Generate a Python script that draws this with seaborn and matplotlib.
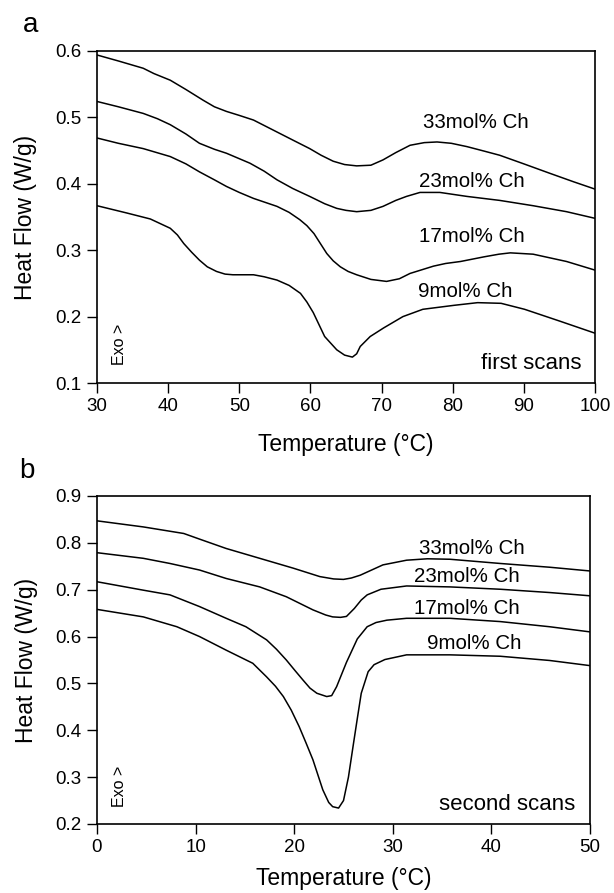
import matplotlib
matplotlib.use("Agg")
import matplotlib.pyplot as plt
import seaborn as sns
import pandas as pd

# panel a: first scans, 30-100 C
a_t33 = [30, 33, 36.5, 38, 40.3, 42.5, 44.9, 46.5, 48.2, 50, 52, 55.3, 57.5, 59.9, 61.5, 63.2, 64.8, 66.5, 68.5, 70.2, 72, 74, 76, 77.8, 79.8, 82, 84.5, 86.6, 90, 93.6, 97, 100]
a_v33 = [0.594, 0.585, 0.574, 0.566, 0.556, 0.542, 0.526, 0.516, 0.509, 0.503, 0.496, 0.478, 0.466, 0.453, 0.443, 0.434, 0.429, 0.427, 0.428, 0.436, 0.447, 0.458, 0.462, 0.463, 0.461, 0.456, 0.449, 0.443, 0.430, 0.416, 0.403, 0.392]

a_t23 = [30, 33, 36.5, 38.5, 40.3, 42.5, 44.4, 46.5, 48.2, 51.5, 53.5, 55.3, 57.5, 59.9, 62, 63.7, 65, 66.5, 68.5, 70.2, 72, 73.5, 75.4, 78.2, 82, 86.6, 91.3, 96, 100]
a_v23 = [0.524, 0.516, 0.506, 0.498, 0.489, 0.475, 0.461, 0.452, 0.446, 0.431, 0.419, 0.406, 0.393, 0.381, 0.370, 0.363, 0.360, 0.358, 0.360, 0.366, 0.375, 0.381, 0.387, 0.387, 0.381, 0.375, 0.367, 0.358, 0.348]

a_t17 = [30, 33, 36.5, 40.3, 42.5, 44.4, 46.5, 48.2, 50, 52, 55.3, 57, 58.5, 59.5, 60.5, 61.4, 62.3, 63.2, 64.2, 65.3, 66.5, 68.5, 70.7, 72.5, 74, 77.3, 79, 81.1, 84.4, 86.5, 88.1, 91.3, 96, 100]
a_v17 = [0.469, 0.461, 0.453, 0.441, 0.430, 0.418, 0.406, 0.396, 0.387, 0.378, 0.366, 0.357, 0.346, 0.337, 0.325, 0.310, 0.295, 0.284, 0.275, 0.268, 0.263, 0.256, 0.253, 0.257, 0.265, 0.276, 0.280, 0.283, 0.290, 0.294, 0.296, 0.294, 0.283, 0.270]

a_t9 = [30, 34.2, 37.5, 40.3, 41.3, 42.2, 43.3, 44.4, 45.5, 46.8, 48, 49.1, 50.5, 52, 53.5, 55.3, 57, 58.6, 59.5, 60.4, 61.2, 62, 63.7, 64.8, 65.9, 66.5, 67, 68.4, 70.3, 73, 75.8, 80.2, 83.5, 86.8, 90.1, 95.1, 100]
a_v9 = [0.367, 0.356, 0.347, 0.333, 0.323, 0.310, 0.297, 0.285, 0.275, 0.268, 0.264, 0.263, 0.263, 0.263, 0.260, 0.255, 0.247, 0.235, 0.222, 0.206, 0.188, 0.170, 0.150, 0.142, 0.139, 0.144, 0.155, 0.170, 0.183, 0.200, 0.211, 0.217, 0.221, 0.220, 0.211, 0.193, 0.175]

# panel b: second scans, 0-50 C
b_t33 = [0, 4.7, 8.8, 10.4, 13.1, 16.5, 19.9, 22.6, 24, 25, 25.8, 26.7, 29, 31.4, 33.5, 35.8, 40.9, 45.9, 50]
b_v33 = [0.847, 0.834, 0.820, 0.808, 0.788, 0.767, 0.746, 0.728, 0.723, 0.722, 0.725, 0.731, 0.753, 0.763, 0.766, 0.765, 0.756, 0.748, 0.740]

b_t23 = [0, 4.7, 7.4, 10.4, 13.1, 16.5, 19.2, 21.9, 23.2, 23.9, 24.7, 25.3, 26.1, 26.8, 27.4, 28.8, 31.4, 35.8, 40.9, 45.9, 50]
b_v23 = [0.779, 0.767, 0.756, 0.742, 0.724, 0.706, 0.685, 0.657, 0.646, 0.642, 0.641, 0.643, 0.660, 0.678, 0.689, 0.701, 0.708, 0.706, 0.701, 0.694, 0.687]

b_t17 = [0, 4.7, 7.4, 10.4, 13.1, 15.1, 17.2, 18.2, 19.2, 20.1, 20.9, 21.6, 22.3, 23.3, 23.8, 24.3, 25.3, 26.4, 27.4, 28.3, 29.4, 31.4, 35.8, 40.9, 45.9, 50]
b_v17 = [0.717, 0.699, 0.689, 0.664, 0.639, 0.621, 0.593, 0.573, 0.550, 0.527, 0.507, 0.490, 0.479, 0.472, 0.474, 0.493, 0.545, 0.595, 0.621, 0.630, 0.635, 0.639, 0.639, 0.632, 0.621, 0.610]

b_t9 = [0, 4.7, 8.1, 10.4, 13.1, 15.8, 17.2, 18.1, 18.9, 19.7, 20.5, 21.2, 21.9, 22.9, 23.5, 23.9, 24.5, 25, 25.5, 26, 26.4, 26.8, 27.5, 28.1, 29.2, 31.4, 35.8, 40.9, 45.9, 50]
b_v9 = [0.658, 0.642, 0.621, 0.600, 0.571, 0.543, 0.514, 0.494, 0.472, 0.443, 0.408, 0.373, 0.337, 0.273, 0.246, 0.237, 0.234, 0.250, 0.300, 0.370, 0.425, 0.479, 0.525, 0.540, 0.551, 0.561, 0.561, 0.558, 0.549, 0.538]

labels = ["33mol% Ch", "23mol% Ch", "17mol% Ch", "9mol% Ch"]
a_label_pos = [(83.2, 0.492), (82.7, 0.404), (82.7, 0.321), (81.7, 0.238)]
b_label_pos = [(38.0, 0.788), (37.5, 0.729), (37.5, 0.660), (38.3, 0.586)]

sns.set_style("ticks")
plt.rcParams["font.family"] = ["Liberation Sans", "DejaVu Sans"]
plt.rcParams["text.color"] = "black"
plt.rcParams["axes.labelcolor"] = "black"

W, H = 614, 893
fig = plt.figure(figsize=(W / 100, H / 100), dpi=100)


def make_axes(left, top, right, bottom):
    return fig.add_axes([left / W, 1 - bottom / H, (right - left) / W, (bottom - top) / H])


def draw_panel(ax, curves, label_pos, xlim, ylim, xticks, yticks, scan_text, scan_pos, exo_pos, xlab_off):
    for (t, v), lab, (lx, ly) in zip(curves, labels, label_pos):
        df = pd.DataFrame({"T": t, "HF": v})
        sns.lineplot(data=df, x="T", y="HF", ax=ax, color="black", linewidth=1.1, sort=False)
        ax.text(lx, ly, lab, fontsize=14.8, ha="center", va="center", color="black")
    ax.set_xlim(*xlim)
    ax.set_ylim(*ylim)
    ax.set_xticks(xticks)
    ax.set_yticks(yticks)
    ax.set_yticklabels([f"{y:.1f}" for y in yticks])
    ax.tick_params(direction="out", length=7, width=1, labelsize=13.5, pad=4, colors="black")
    for s in ax.spines.values():
        s.set_linewidth(1.2)
        s.set_color("black")
    ax.set_xlabel("Temperature (°C)", fontsize=16.5)
    ax.set_ylabel("Heat Flow (W/g)", fontsize=16.5)
    ax.xaxis.label.set_va("center")
    ax.yaxis.label.set_va("center")
    ax.xaxis.set_label_coords(0.5, xlab_off)
    ax.yaxis.set_label_coords(-0.143, 0.5)
    ax.text(scan_pos[0], scan_pos[1], scan_text, fontsize=16, ha="right", va="center", color="black")
    ax.text(exo_pos[0], exo_pos[1], "Exo >", fontsize=11.5, rotation=90, ha="center", va="center", color="black")


ax_a = make_axes(97, 51, 595, 383)
draw_panel(ax_a,
           [(a_t33, a_v33), (a_t23, a_v23), (a_t17, a_v17), (a_t9, a_v9)],
           a_label_pos, (30, 100), (0.1, 0.6),
           [30, 40, 50, 60, 70, 80, 90, 100], [0.1, 0.2, 0.3, 0.4, 0.5, 0.6],
           "first scans", (98.1, 0.129), (33.1, 0.158), -62 / 332)

ax_b = make_axes(97, 496, 590, 824)
draw_panel(ax_b,
           [(b_t33, b_v33), (b_t23, b_v23), (b_t17, b_v17), (b_t9, b_v9)],
           b_label_pos, (0, 50), (0.2, 0.9),
           [0, 10, 20, 30, 40, 50], [0.2, 0.3, 0.4, 0.5, 0.6, 0.7, 0.8, 0.9],
           "second scans", (48.5, 0.241), (2.3, 0.280), -54 / 328)

fig.text(31 / W, 1 - 24.5 / H, "a", fontsize=20, ha="center", va="center")
fig.text(27 / W, 1 - 471 / H, "b", fontsize=20, ha="center", va="center")

fig.savefig("out.png", dpi=100)
